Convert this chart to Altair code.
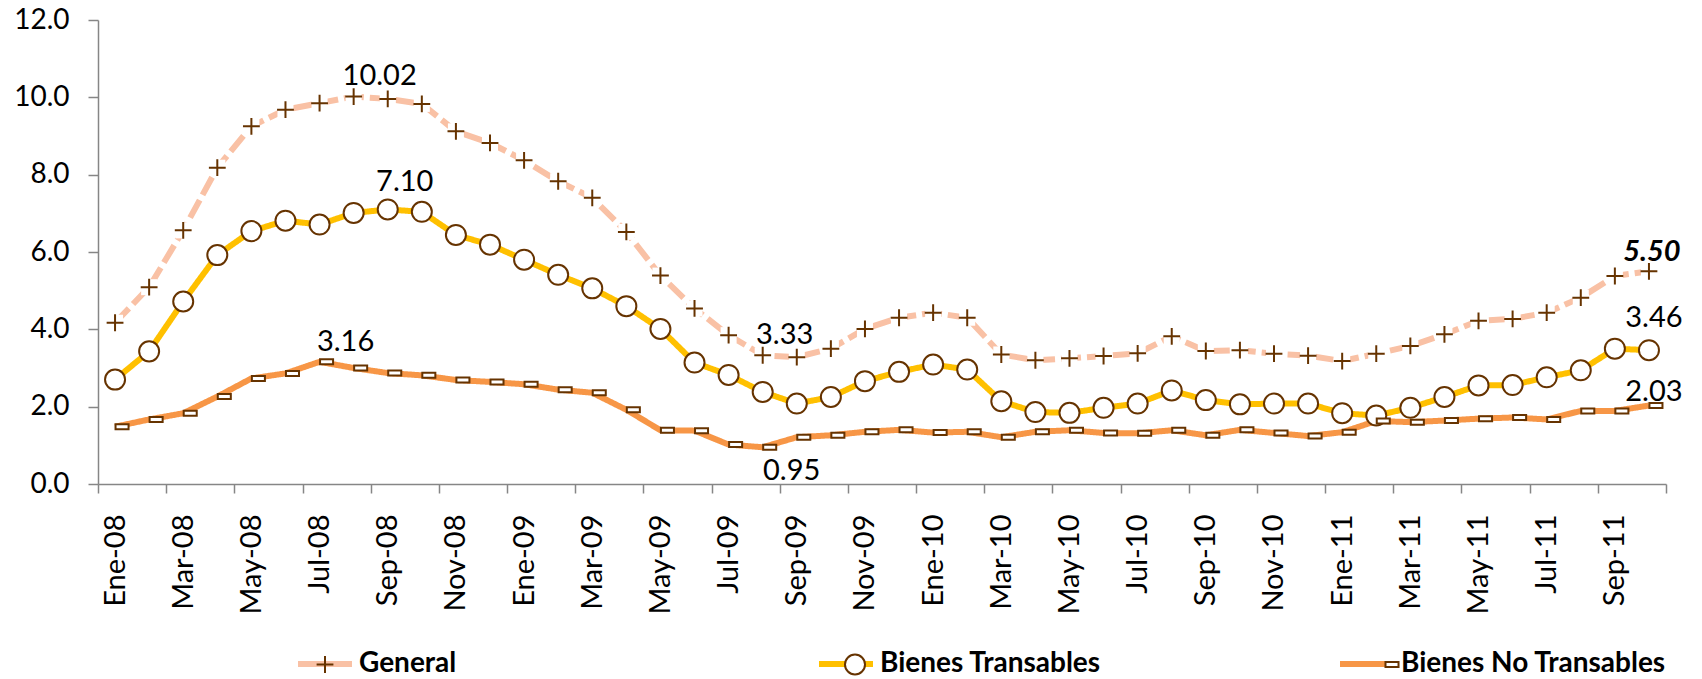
import altair as alt
import pandas as pd

months = ["Ene-08", "Feb-08", "Mar-08", "Abr-08", "May-08", "Jun-08", "Jul-08", "Ago-08", "Sep-08", "Oct-08", "Nov-08", "Dic-08",
          "Ene-09", "Feb-09", "Mar-09", "Abr-09", "May-09", "Jun-09", "Jul-09", "Ago-09", "Sep-09", "Oct-09", "Nov-09", "Dic-09",
          "Ene-10", "Feb-10", "Mar-10", "Abr-10", "May-10", "Jun-10", "Jul-10", "Ago-10", "Sep-10", "Oct-10", "Nov-10", "Dic-10",
          "Ene-11", "Feb-11", "Mar-11", "Abr-11", "May-11", "Jun-11", "Jul-11", "Ago-11", "Sep-11", "Oct-11"]

general = [4.17, 5.09, 6.56, 8.18, 9.25, 9.68, 9.85, 10.02, 9.96, 9.83, 9.12, 8.82, 8.37, 7.83, 7.40, 6.52,
           5.39, 4.54, 3.85, 3.33, 3.28, 3.50, 4.01, 4.30, 4.43, 4.30, 3.35, 3.20, 3.25, 3.31, 3.38, 3.82,
           3.44, 3.46, 3.37, 3.32, 3.18, 3.37, 3.57, 3.87, 4.22, 4.27, 4.43, 4.82, 5.38, 5.50]
transables = [2.70, 3.43, 4.72, 5.92, 6.54, 6.81, 6.71, 7.01, 7.10, 7.04, 6.44, 6.19, 5.80, 5.41, 5.06, 4.60,
              4.01, 3.14, 2.82, 2.38, 2.08, 2.25, 2.66, 2.90, 3.09, 2.96, 2.14, 1.86, 1.84, 1.97, 2.08, 2.42,
              2.17, 2.06, 2.08, 2.08, 1.83, 1.77, 1.97, 2.25, 2.55, 2.56, 2.76, 2.94, 3.50, 3.46]
no_transables = [1.48, 1.67, 1.83, 2.26, 2.73, 2.86, 3.16, 3.00, 2.87, 2.81, 2.69, 2.64, 2.58, 2.44, 2.36, 1.92,
                 1.39, 1.38, 1.02, 0.95, 1.21, 1.26, 1.35, 1.40, 1.33, 1.35, 1.21, 1.35, 1.39, 1.32, 1.31, 1.39,
                 1.26, 1.40, 1.32, 1.24, 1.34, 1.63, 1.60, 1.64, 1.69, 1.72, 1.67, 1.89, 1.89, 2.03]

series_names = ["General", "Bienes Transables", "Bienes No Transables"]
line_colors = ["#F9C1A5", "#FFC000", "#F79646"]
# marker shapes; the leading moves give every legend symbol the same horizontal extent as the line symbol
marker_paths = [
    "M-1,0M1,0M-0.29,0H0.29M0,-0.29V0.29",
    "M-1,0M1,0M-0.345,0A0.345,0.345 0 1,1 0.345,0A0.345,0.345 0 1,1 -0.345,0Z",
    "M-1,0M1,0M0.017,-0.086H0.466V0.086H0.017Z",
]
# (series, month index, dx, dy, bold-italic)
point_labels = [
    ("General", 7, 26, -21, False),
    ("Bienes Transables", 8, 17, -27, False),
    ("Bienes No Transables", 6, 26, -20, False),
    ("General", 19, 22, -20, False),
    ("Bienes No Transables", 19, 29, 24, False),
    ("General", 45, 3, -19, True),
    ("Bienes Transables", 45, 5, -32, False),
    ("Bienes No Transables", 45, 5, -14, False),
]

MPREF = "m:"
rows = []
for name, vals in zip(series_names, [general, transables, no_transables]):
    for i, v in enumerate(vals):
        rows.append({"idx": i, "mes": months[i], "serie": name, "serie_m": MPREF + name, "valor": v})
df = pd.DataFrame(rows)

FONT = "Lato"
GRAY = "#868686"
BROWN = "#663300"
n = len(months)
tick_vals = [-0.5 + 2 * k for k in range(n // 2 + 1)]
month_js = "[" + ",".join("'" + m + "'" for m in months) + "]"

X = alt.X(
    "idx:Q",
    title=None,
    scale=alt.Scale(domain=[-0.5, n - 0.5], nice=False, zero=False),
    axis=alt.Axis(
        values=tick_vals,
        labelExpr=month_js + "[datum.value + 0.5] || ''",
        labelAngle=-90,
        labelOffset=17,
        labelFont=FONT,
        labelFontSize=29,
        labelColor="black",
        labelPadding=21,
        labelOverlap=False,
        labelFlush=False,
        labelBound=False,
        tickSize=9,
        tickColor=GRAY,
        tickWidth=1.5,
        domainColor=GRAY,
        domainWidth=1.5,
        grid=False,
    ),
)
Y = alt.Y(
    "valor:Q",
    title=None,
    scale=alt.Scale(domain=[0, 12], nice=False),
    axis=alt.Axis(
        values=[0, 2, 4, 6, 8, 10, 12],
        format=".1f",
        labelFont=FONT,
        labelFontSize=28,
        labelColor="black",
        labelPadding=19,
        tickSize=10,
        tickColor=GRAY,
        tickWidth=1.5,
        domainColor=GRAY,
        domainWidth=1.5,
        grid=False,
    ),
)

legend_common = dict(
    orient="none",
    legendX=197,
    legendY=614,
    direction="horizontal",
    title=None,
    padding=0,
    labelFont=FONT,
    labelFontSize=28,
    labelFontWeight="bold",
    labelLimit=600,
    labelOffset=4,
    symbolOffset=0,
    gridAlign="all",
)

lines = alt.Chart(df).mark_line(strokeWidth=6, strokeJoin="round").encode(
    x=X,
    y=Y,
    color=alt.Color(
        "serie:N",
        scale=alt.Scale(domain=series_names, range=line_colors),
        sort=series_names,
        legend=alt.Legend(symbolType="stroke", symbolSize=2916, symbolStrokeWidth=6,
                          labelColor="black", columnPadding=183, **legend_common),
    ),
    strokeDash=alt.condition(alt.datum.serie == "General", alt.value([20, 6]), alt.value([1, 0])),
    order="idx:Q",
)

halo = alt.Chart(df).transform_filter(alt.datum.serie == "General").mark_square(
    size=256, color="white", opacity=1, strokeWidth=0
).encode(x=X, y=Y)

marker_domain = [MPREF + s for s in series_names]
marker_legend = alt.Legend(
    symbolSize=3364,
    symbolStrokeWidth=2,
    labelColor="black",
    labelOpacity=0,
    labelExpr="slice(datum.label, %d)" % len(MPREF),
    columnPadding=198,
    **legend_common,
)
markers = alt.Chart(df).mark_point(filled=False, strokeWidth=2, opacity=1, size=3364).encode(
    x=X,
    y=Y,
    shape=alt.Shape("serie_m:N", scale=alt.Scale(domain=marker_domain, range=marker_paths),
                    sort=marker_domain, legend=marker_legend),
    fill=alt.Fill("serie_m:N", scale=alt.Scale(domain=marker_domain, range=["white"] * 3),
                  sort=marker_domain, legend=marker_legend),
    stroke=alt.Stroke("serie_m:N", scale=alt.Scale(domain=marker_domain, range=[BROWN] * 3),
                      sort=marker_domain, legend=marker_legend),
)

layers = [lines, halo, markers]
for serie, i, dx, dy, strong in point_labels:
    layers.append(
        alt.Chart(df)
        .transform_filter((alt.datum.serie == serie) & (alt.datum.idx == i))
        .mark_text(
            dx=dx,
            dy=dy,
            font=FONT,
            fontSize=29,
            fontWeight="bold" if strong else "normal",
            fontStyle="italic" if strong else "normal",
            color="black",
            align="center",
            baseline="middle",
        )
        .encode(x=X, y=Y, text=alt.Text("valor:Q", format=".2f"))
    )

chart = (
    alt.layer(*layers)
    .properties(
        width=1568,
        height=464,
        autosize=alt.AutoSizeParams(type="none"),
        padding={"left": 90, "top": 12, "right": 24, "bottom": 215},
        background="white",
    )
    .configure_view(stroke=None)
)

chart.save("out.html", embed_options={"renderer": "svg", "actions": False})
